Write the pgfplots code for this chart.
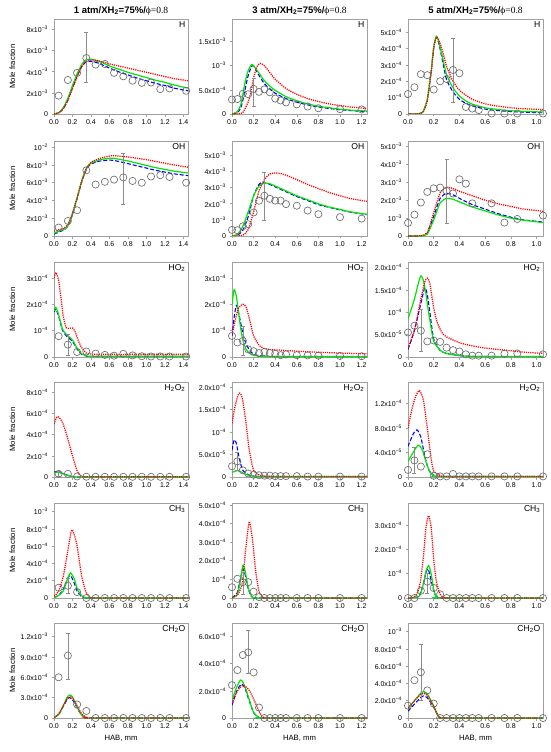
\documentclass[border=0pt]{standalone}
\usepackage{fontspec}
\setmainfont{Liberation Sans}
\newfontfamily\serifg{Liberation Serif}
\usepackage{pgfplots}
\pgfplotsset{compat=1.18}
\definecolor{cgreen}{RGB}{0,230,0}
\definecolor{frame}{RGB}{160,160,160}
\newcommand{\tl}[2]{#1x10\textsuperscript{−#2}}
\newcommand{\tp}[1]{10\textsuperscript{−#1}}
\newcommand{\ttl}[1]{{\bfseries #1 atm/XH\textsubscript{2}=75\%/}{\serifg ϕ=0.8}}
\pgfplotsset{
 pan/.style={scale only axis, height=95pt, xmin=0, ymin=0, clip=true,
   axis line style={frame, line width=0.6pt}, tick style={frame, line width=0.6pt},
   major tick length=2.5pt, tick align=outside, tick pos=left,
   ticklabel style={font=\fontsize{7}{8}\selectfont},
   xticklabel style={/pgf/number format/.cd, fixed, fixed zerofill, precision=1, assume math mode=true},
   every axis y label/.style={at={(axis description cs:-0.31,0.5)}, rotate=90, anchor=center, font=\fontsize{7.7}{9}\selectfont},
   every axis x label/.style={at={(axis description cs:0.5,-0.21)}, anchor=center, font=\fontsize{7.7}{9}\selectfont},
   every axis title/.style={at={(0.5,1)}, anchor=south, yshift=0pt, font=\fontsize{9.5}{11}\selectfont}},
 col1/.style={pan, width=134pt, xmax=1.45, xtick={0,0.2,0.4,0.6,0.8,1.0,1.2,1.4}, ylabel={Mole fraction}},
 col2/.style={pan, width=135pt, xmax=1.25, xtick={0,0.2,0.4,0.6,0.8,1.0,1.2}},
 col3/.style={pan, width=135pt, xmax=1.05, xtick={0,0.2,0.4,0.6,0.8,1.0}},
 cR/.style={draw=red, line width=1.25pt, dash pattern=on 1.2pt off 1.0pt, smooth, tension=0.4, mark=none},
 cB/.style={draw=blue, line width=1.1pt, dash pattern=on 4pt off 2pt, smooth, tension=0.4, mark=none},
 cG/.style={draw=cgreen, line width=1.2pt, smooth, tension=0.4, mark=none},
 cE/.style={only marks, mark=o, mark size=3.6pt, mark options={draw=gray!85!black, line width=0.65pt}},
 cEB/.style={draw=gray, line width=0.6pt, mark=none, error bars/.cd, y dir=both, y explicit,
   error bar style={gray!90, line width=0.6pt}, error mark options={gray!90, mark size=2pt, line width=0.6pt, rotate=90}},
}
\newcommand{\spec}[1]{\node[anchor=north east, font=\fontsize{8.6}{10}\selectfont, inner sep=2.5pt] at (rel axis cs:1,1) {#1};}
\begin{document}
\begin{tikzpicture}
\useasboundingbox (0,0) rectangle (550pt,-752pt);
% ===== Row 1: H =====
\begin{axis}[col1, at={(54pt,-19pt)}, anchor=north west, ymax=9, title={\ttl{1}},
  ytick={0,2,4,6,8}, yticklabels={0,\tl{2}{3},\tl{4}{3},\tl{6}{3},\tl{8}{3}}]
\addplot[cB] coordinates {(0,0.02)(0.05,0.1)(0.1,0.5)(0.15,1.35)(0.2,2.5)(0.25,3.6)(0.3,4.5)(0.35,4.95)(0.4,5.0)(0.45,4.9)(0.5,4.75)(0.6,4.35)(0.7,4.0)(0.8,3.7)(0.9,3.4)(1.0,3.15)(1.1,2.9)(1.2,2.7)(1.3,2.45)(1.45,2.2)};
\addplot[cG] coordinates {(0,0.02)(0.05,0.12)(0.1,0.6)(0.15,1.5)(0.2,2.7)(0.25,3.8)(0.3,4.7)(0.35,5.15)(0.4,5.2)(0.45,5.1)(0.5,4.95)(0.6,4.55)(0.7,4.25)(0.8,3.95)(0.9,3.7)(1.0,3.45)(1.1,3.2)(1.2,3.0)(1.3,2.75)(1.45,2.45)};
\addplot[cR] coordinates {(0,0.02)(0.05,0.1)(0.1,0.5)(0.15,1.3)(0.2,2.4)(0.25,3.5)(0.3,4.5)(0.35,5.0)(0.4,5.1)(0.45,5.1)(0.5,5.0)(0.6,4.75)(0.7,4.55)(0.8,4.35)(0.9,4.15)(1.0,3.95)(1.1,3.75)(1.2,3.55)(1.3,3.35)(1.45,3.15)};
\addplot[cE] coordinates {(0.05,1.74)(0.15,3.22)(0.25,3.9)(0.35,5.3)(0.45,4.68)(0.55,4.74)(0.65,3.9)(0.75,3.57)(0.85,3.16)(0.95,2.95)(1.05,2.98)(1.15,2.36)(1.25,2.42)(1.43,2.2)};
\addplot[cEB] coordinates {(0.35,5.35) +- (0,2.35)};
\spec{H}
\end{axis}
\begin{axis}[col2, at={(232pt,-19pt)}, anchor=north west, ymax=19.7, title={\ttl{3}},
  ytick={0,5,10,15}, yticklabels={0,\tl{5.0}{4},\tp{3},\tl{1.5}{3}}]
\addplot[cB] coordinates {(0,0)(0.05,0.3)(0.08,1.2)(0.1,2.8)(0.12,5.0)(0.15,8.0)(0.18,9.8)(0.2,10.0)(0.25,8.0)(0.3,6.3)(0.35,5.2)(0.4,4.3)(0.5,3.2)(0.6,2.45)(0.7,1.9)(0.8,1.45)(0.9,1.15)(1.0,0.9)(1.1,0.7)(1.25,0.5)};
\addplot[cG] coordinates {(0,0)(0.05,0.5)(0.08,1.8)(0.1,4.0)(0.12,6.5)(0.15,9.0)(0.18,10.2)(0.2,10.0)(0.25,8.5)(0.3,6.9)(0.35,5.8)(0.4,4.9)(0.5,3.6)(0.6,2.75)(0.7,2.1)(0.8,1.6)(0.9,1.3)(1.0,1.0)(1.1,0.8)(1.25,0.6)};
\addplot[cR] coordinates {(0,0)(0.08,0.1)(0.1,0.3)(0.15,2.5)(0.18,5.0)(0.2,7.5)(0.23,9.8)(0.26,10.5)(0.3,10.0)(0.35,8.6)(0.4,7.2)(0.5,5.3)(0.6,4.1)(0.7,3.2)(0.8,2.6)(0.9,2.1)(1.0,1.75)(1.1,1.45)(1.25,1.15)};
\addplot[cE] coordinates {(0,3.0)(0.05,3.1)(0.1,4.2)(0.15,4.1)(0.2,5.2)(0.25,4.6)(0.3,5.1)(0.35,4.5)(0.4,3.2)(0.45,2.8)(0.5,2.4)(0.6,2.0)(0.7,1.55)(0.8,1.2)(1.0,1.0)(1.2,0.95)};
\addplot[cEB] coordinates {(0.2,4.6) +- (0,2.9)};
\spec{H}
\end{axis}
\begin{axis}[col3, at={(408pt,-19pt)}, anchor=north west, ymax=5.8, title={\ttl{5}},
  ytick={0,1,2,3,4,5}, yticklabels={0,\tp{4},\tl{2}{4},\tl{3}{4},\tl{4}{4},\tl{5}{4}}]
\addplot[cB] coordinates {(0,0)(0.08,0.01)(0.1,0.05)(0.12,0.18)(0.15,0.9)(0.18,2.6)(0.2,4.05)(0.22,4.7)(0.24,4.3)(0.27,3.2)(0.3,2.1)(0.35,1.35)(0.4,0.9)(0.45,0.65)(0.5,0.5)(0.6,0.3)(0.7,0.21)(0.8,0.15)(0.9,0.11)(1.05,0.08)};
\addplot[cG] coordinates {(0,0)(0.08,0.01)(0.1,0.05)(0.12,0.18)(0.15,0.9)(0.18,2.6)(0.2,4.1)(0.22,4.75)(0.24,4.4)(0.27,3.4)(0.3,2.4)(0.35,1.6)(0.4,1.1)(0.45,0.8)(0.5,0.6)(0.6,0.38)(0.7,0.27)(0.8,0.2)(0.9,0.16)(1.05,0.12)};
\addplot[cR] coordinates {(0,0)(0.08,0.01)(0.1,0.05)(0.12,0.15)(0.15,0.8)(0.18,2.5)(0.2,4.0)(0.22,4.7)(0.24,4.5)(0.27,3.8)(0.3,2.9)(0.35,2.0)(0.4,1.45)(0.45,1.15)(0.5,0.9)(0.6,0.62)(0.7,0.48)(0.8,0.38)(0.9,0.32)(1.05,0.27)};
\addplot[cE] coordinates {(0,1.22)(0.05,1.63)(0.1,2.43)(0.15,2.37)(0.2,1.49)(0.25,2.0)(0.3,2.14)(0.35,2.69)(0.4,2.49)(0.45,0.43)(0.5,0.33)(0.55,0.24)(0.65,0.03)(0.75,0.03)(0.85,0.03)(1.05,0.03)};
\addplot[cEB] coordinates {(0.35,2.69) +- (0,1.96)};
\spec{H}
\end{axis}
% ===== Row 2: OH =====
\begin{axis}[col1, at={(54pt,-141pt)}, anchor=north west, ymax=10.7,
  ytick={0,2,4,6,8,10}, yticklabels={0,\tl{2}{3},\tl{4}{3},\tl{6}{3},\tl{8}{3},\tp{2}}]
\addplot[cB] coordinates {(0,0.2)(0.05,0.45)(0.1,0.65)(0.15,1.1)(0.2,2.4)(0.25,4.2)(0.3,6.1)(0.35,7.5)(0.4,8.1)(0.5,8.45)(0.6,8.55)(0.65,8.5)(0.7,8.4)(0.8,8.15)(0.9,7.9)(1.0,7.65)(1.1,7.4)(1.2,7.2)(1.3,7.0)(1.45,6.8)};
\addplot[cG] coordinates {(0,0.3)(0.05,0.55)(0.1,0.7)(0.15,1.15)(0.2,2.5)(0.25,4.3)(0.3,6.2)(0.35,7.6)(0.4,8.2)(0.5,8.6)(0.6,8.75)(0.65,8.75)(0.7,8.65)(0.8,8.45)(0.9,8.2)(1.0,7.95)(1.1,7.7)(1.2,7.5)(1.3,7.3)(1.45,7.1)};
\addplot[cR] coordinates {(0,0.55)(0.05,0.7)(0.1,0.85)(0.15,1.3)(0.2,2.6)(0.25,4.3)(0.3,6.2)(0.35,7.6)(0.4,8.3)(0.5,8.75)(0.6,9.0)(0.65,9.05)(0.7,9.0)(0.8,8.9)(0.9,8.75)(1.0,8.6)(1.1,8.4)(1.2,8.2)(1.3,8.0)(1.45,7.75)};
\addplot[cE] coordinates {(0.05,0.95)(0.15,1.7)(0.25,2.9)(0.35,7.4)(0.45,5.8)(0.55,6.1)(0.65,6.35)(0.75,6.6)(0.85,6.2)(0.95,6.0)(1.05,6.7)(1.15,6.85)(1.25,6.65)(1.43,6.0)};
\addplot[cEB] coordinates {(0.75,6.45) +- (0,2.85)};
\spec{OH}
\end{axis}
\begin{axis}[col2, at={(232pt,-141pt)}, anchor=north west, ymax=5.9,
  ytick={0,1,2,3,4,5}, yticklabels={0,\tp{3},\tl{2}{3},\tl{3}{3},\tl{4}{3},\tl{5}{3}}]
\addplot[cB] coordinates {(0,0)(0.05,0.05)(0.1,0.35)(0.15,1.2)(0.2,2.5)(0.25,3.2)(0.28,3.32)(0.35,3.2)(0.4,3.05)(0.5,2.75)(0.6,2.45)(0.7,2.2)(0.8,1.95)(0.9,1.78)(1.0,1.62)(1.1,1.48)(1.25,1.33)};
\addplot[cG] coordinates {(0,0)(0.05,0.1)(0.1,0.6)(0.15,1.5)(0.2,2.5)(0.25,3.1)(0.3,3.28)(0.35,3.25)(0.4,3.1)(0.5,2.8)(0.6,2.5)(0.7,2.25)(0.8,2.0)(0.9,1.8)(1.0,1.65)(1.1,1.5)(1.25,1.35)};
\addplot[cR] coordinates {(0,0)(0.1,0.05)(0.15,0.4)(0.2,1.5)(0.25,2.8)(0.3,3.5)(0.35,3.85)(0.4,3.92)(0.45,3.88)(0.5,3.78)(0.6,3.5)(0.7,3.2)(0.8,2.95)(0.9,2.7)(1.0,2.5)(1.1,2.32)(1.25,2.15)};
\addplot[cE] coordinates {(0,0.38)(0.05,0.36)(0.1,0.6)(0.15,0.73)(0.2,1.46)(0.25,2.19)(0.3,2.5)(0.35,2.31)(0.4,2.2)(0.45,2.2)(0.5,1.98)(0.6,1.88)(0.7,1.58)(0.8,1.35)(1.0,1.17)(1.2,1.08)};
\addplot[cEB] coordinates {(0.3,2.46) +- (0,1.5)};
\spec{OH}
\end{axis}
\begin{axis}[col3, at={(408pt,-141pt)}, anchor=north west, ymax=5.3,
  ytick={0,1,2,3,4,5}, yticklabels={0,\tp{3},\tl{2}{3},\tl{3}{3},\tl{4}{3},\tl{5}{3}}]
\addplot[cB] coordinates {(0,0)(0.1,0.01)(0.15,0.15)(0.2,1.1)(0.25,2.1)(0.3,2.38)(0.35,2.3)(0.4,2.1)(0.5,1.75)(0.6,1.5)(0.7,1.25)(0.8,1.05)(0.9,0.9)(1.05,0.78)};
\addplot[cG] coordinates {(0,0)(0.1,0.01)(0.15,0.1)(0.2,0.9)(0.25,1.85)(0.3,2.1)(0.35,2.05)(0.4,1.9)(0.5,1.62)(0.6,1.4)(0.7,1.18)(0.8,1.0)(0.9,0.88)(1.05,0.75)};
\addplot[cR] coordinates {(0,0)(0.1,0.02)(0.15,0.2)(0.2,1.3)(0.25,2.4)(0.3,2.72)(0.35,2.65)(0.4,2.5)(0.5,2.25)(0.6,2.0)(0.7,1.8)(0.8,1.65)(0.9,1.5)(1.05,1.38)};
\addplot[cE] coordinates {(0,0.73)(0.05,1.19)(0.1,1.87)(0.15,2.46)(0.2,2.66)(0.25,2.7)(0.3,2.51)(0.35,2.37)(0.4,3.16)(0.45,2.92)(0.5,1.82)(0.65,1.82)(0.75,0.75)(0.85,0.95)(1.05,1.14)};
\addplot[cEB] coordinates {(0.3,2.5) +- (0,1.8)};
\spec{OH}
\end{axis}
% ===== Row 3: HO2 =====
\begin{axis}[col1, at={(54pt,-262pt)}, anchor=north west, ymax=3.6,
  ytick={0,1,2,3}, yticklabels={0,\tp{4},\tl{2}{4},\tl{3}{4}}]
\addplot[cB] coordinates {(0,1.7)(0.02,1.82)(0.05,1.55)(0.08,1.15)(0.1,0.95)(0.15,0.74)(0.2,0.6)(0.25,0.3)(0.3,0.1)(0.35,0.04)(0.4,0.02)(1.0,0.02)(1.45,0.02)};
\addplot[cG] coordinates {(0,1.75)(0.02,1.88)(0.05,1.6)(0.08,1.2)(0.1,1.0)(0.15,0.8)(0.2,0.65)(0.25,0.33)(0.3,0.12)(0.35,0.05)(0.4,0.03)(1.0,0.03)(1.45,0.03)};
\addplot[cR] coordinates {(0,3.0)(0.02,3.2)(0.05,2.9)(0.08,2.1)(0.1,1.55)(0.13,1.12)(0.16,1.08)(0.2,1.1)(0.23,0.95)(0.26,0.65)(0.3,0.35)(0.35,0.15)(0.4,0.11)(0.6,0.1)(1.0,0.1)(1.45,0.1)};
\addplot[cE] coordinates {(0.05,0.79)(0.15,0.47)(0.25,0.19)(0.35,0.21)(0.45,0.13)(0.55,0.08)(0.65,0.05)(0.75,0.12)(0.85,0.06)(0.95,0.03)(1.05,0.02)(1.15,0.02)(1.25,0.02)(1.43,0.02)};
\addplot[cEB] coordinates {(0.15,0.47) +- (0,0.4)};
\spec{HO\textsubscript{2}}
\end{axis}
\begin{axis}[col2, at={(232pt,-262pt)}, anchor=north west, ymax=3.6,
  ytick={0,1,2,3}, yticklabels={0,\tp{4},\tl{2}{4},\tl{3}{4}}]
\addplot[cB] coordinates {(0,0.8)(0.02,1.5)(0.04,1.95)(0.06,1.7)(0.08,1.3)(0.1,0.9)(0.13,0.5)(0.16,0.28)(0.2,0.1)(0.3,0.03)(0.5,0.02)(1.25,0.02)};
\addplot[cG] coordinates {(0,2.0)(0.02,2.55)(0.04,2.3)(0.06,1.7)(0.08,1.1)(0.1,0.65)(0.13,0.3)(0.16,0.15)(0.2,0.06)(0.3,0.02)(0.5,0.01)(1.25,0.01)};
\addplot[cR] coordinates {(0,0.85)(0.03,1.4)(0.06,1.85)(0.1,2.0)(0.13,1.9)(0.17,1.3)(0.2,0.8)(0.25,0.45)(0.3,0.32)(0.4,0.27)(0.5,0.25)(0.6,0.22)(0.8,0.18)(1.0,0.15)(1.25,0.12)};
\addplot[cE] coordinates {(0,0.8)(0.05,0.55)(0.1,0.61)(0.15,0.29)(0.2,0.22)(0.25,0.15)(0.3,0.19)(0.35,0.15)(0.4,0.12)(0.45,0.07)(0.5,0.1)(0.6,0.07)(0.7,0.06)(0.8,0.05)(1.0,0.04)(1.2,0.03)};
\addplot[cEB] coordinates {(0.1,0.61) +- (0,0.55)};
\spec{HO\textsubscript{2}}
\end{axis}
\begin{axis}[col3, at={(408pt,-262pt)}, anchor=north west, ymax=21.3,
  ytick={0,5,10,15,20}, yticklabels={0,\tl{5.0}{5},\tp{4},\tl{1.5}{4},\tl{2.0}{4}}]
\addplot[cB] coordinates {(0,1.7)(0.05,6)(0.1,12)(0.13,15.5)(0.15,14)(0.17,10)(0.2,4)(0.25,1.5)(0.3,0.8)(0.4,0.3)(0.5,0.15)(0.7,0.1)(1.05,0.1)};
\addplot[cG] coordinates {(0,8.5)(0.05,13)(0.08,16.5)(0.1,18.2)(0.12,17.2)(0.14,14)(0.16,10)(0.18,6.5)(0.2,3.5)(0.25,1.5)(0.3,0.8)(0.4,0.3)(0.5,0.15)(0.7,0.1)(1.05,0.1)};
\addplot[cR] coordinates {(0,2)(0.05,6)(0.1,13)(0.13,16.8)(0.15,17.7)(0.17,16.5)(0.2,11)(0.23,7.5)(0.27,5.2)(0.3,4.5)(0.4,3.2)(0.5,2.5)(0.6,2.0)(0.7,1.7)(0.8,1.4)(0.9,1.1)(1.05,0.8)};
\addplot[cE] coordinates {(0,5.5)(0.05,7.0)(0.1,5.9)(0.15,3.5)(0.2,3.7)(0.25,3.4)(0.3,2.1)(0.35,1.55)(0.4,1.25)(0.45,0.6)(0.5,0.3)(0.55,0.3)(0.65,0.3)(0.75,0.75)(0.85,0.8)(1.05,0.6)};
\addplot[cEB] coordinates {(0.1,5.9) +- (0,4.7)};
\spec{HO\textsubscript{2}}
\end{axis}
% ===== Row 4: H2O2 =====
\begin{axis}[col1, at={(54pt,-382pt)}, anchor=north west, ymax=9,
  ytick={0,2,4,6,8}, yticklabels={0,\tl{2}{4},\tl{4}{4},\tl{6}{4},\tl{8}{4}}]
\addplot[cB] coordinates {(0,0.5)(0.05,0.48)(0.1,0.32)(0.15,0.16)(0.2,0.06)(0.3,0.01)(1.45,0.01)};
\addplot[cG] coordinates {(0,0.45)(0.05,0.45)(0.1,0.3)(0.15,0.15)(0.2,0.05)(0.3,0.01)(1.45,0.01)};
\addplot[cR] coordinates {(0,5.0)(0.03,5.7)(0.06,5.6)(0.1,5.0)(0.15,3.6)(0.2,2.0)(0.25,0.6)(0.28,0.2)(0.3,0.06)(0.35,0.03)(0.5,0.02)(1.45,0.02)};
\addplot[cE] coordinates {(0.05,0.3)(0.15,0.3)(0.25,0.05)(0.35,0.03)(0.45,0.02)(0.55,0.02)(0.65,0.02)(0.75,0.02)(0.85,0.02)(0.95,0.02)(1.05,0.02)(1.15,0.02)(1.25,0.02)(1.43,0.02)};
\addplot[cEB] coordinates {(0.05,0.3) +- (0,0.2)};
\spec{H\textsubscript{2}O\textsubscript{2}}
\end{axis}
\begin{axis}[col2, at={(232pt,-382pt)}, anchor=north west, ymax=21.2,
  ytick={0,5,10,15,20}, yticklabels={0,\tl{5.0}{5},\tp{4},\tl{1.5}{4},\tl{2.0}{4}}]
\addplot[cB] coordinates {(0,6)(0.02,8.3)(0.04,7.5)(0.06,5.0)(0.08,3.0)(0.1,1.5)(0.15,0.5)(0.2,0.2)(0.3,0.1)(1.25,0.1)};
\addplot[cG] coordinates {(0,1.0)(0.03,1.3)(0.05,1.4)(0.08,1.2)(0.1,0.9)(0.15,0.4)(0.2,0.2)(0.3,0.1)(1.25,0.1)};
\addplot[cR] coordinates {(0,12)(0.03,16)(0.06,18.5)(0.08,18.6)(0.1,17)(0.13,12)(0.16,6)(0.2,1.5)(0.25,0.5)(0.3,0.2)(0.5,0.1)(1.25,0.1)};
\addplot[cE] coordinates {(0,2.4)(0.05,3.5)(0.1,1.5)(0.15,0.8)(0.2,0.5)(0.25,0.4)(0.3,0.3)(0.35,0.3)(0.4,0.2)(0.45,0.2)(0.5,0.2)(0.6,0.2)(0.7,0.1)(0.8,0.1)(1.0,0.1)(1.2,0.1)};
\addplot[cEB] coordinates {(0.05,3.5) +- (0,2.0)};
\spec{H\textsubscript{2}O\textsubscript{2}}
\end{axis}
\begin{axis}[col3, at={(408pt,-382pt)}, anchor=north west, ymax=15.5,
  ytick={0,4,8,12}, yticklabels={0,\tl{4.0}{5},\tl{8.0}{5},\tl{1.2}{4}}]
\addplot[cB] coordinates {(0,5)(0.04,7)(0.07,7.7)(0.1,6.5)(0.13,3.5)(0.16,1.2)(0.2,0.3)(0.25,0.1)(1.05,0.1)};
\addplot[cG] coordinates {(0,2.5)(0.04,4.0)(0.08,5.2)(0.11,4.5)(0.14,2.5)(0.17,0.8)(0.2,0.3)(0.25,0.1)(1.05,0.1)};
\addplot[cR] coordinates {(0,8)(0.03,11)(0.06,13.2)(0.09,14.1)(0.12,12.5)(0.15,8)(0.18,3)(0.2,1.0)(0.25,0.3)(0.3,0.1)(1.05,0.1)};
\addplot[cE] coordinates {(0,1.16)(0.05,2.7)(0.1,1.7)(0.15,3.7)(0.2,0.2)(0.25,0.1)(0.3,0.1)(0.35,0.5)(0.4,0.1)(0.45,0.1)(0.5,0.1)(0.55,0.1)(0.65,0.1)(0.75,0.1)(0.85,0.1)(1.05,0.1)};
\addplot[cEB] coordinates {(0.05,2.7) +- (0,2.1)};
\spec{H\textsubscript{2}O\textsubscript{2}}
\end{axis}
% ===== Row 5: CH3 =====
\begin{axis}[col1, at={(54pt,-503pt)}, anchor=north west, ymax=11,
  ytick={0,2,4,6,8,10}, yticklabels={0,\tl{2}{4},\tl{4}{4},\tl{6}{4},\tl{8}{4},\tp{3}}]
\addplot[cB] coordinates {(0,0.05)(0.05,0.3)(0.1,1.0)(0.15,2.3)(0.18,2.6)(0.22,1.7)(0.25,0.8)(0.3,0.15)(0.35,0.02)(0.4,0)(1.45,0)};
\addplot[cG] coordinates {(0,0.05)(0.05,0.3)(0.1,0.8)(0.15,2.3)(0.18,2.9)(0.22,2.2)(0.25,1.1)(0.3,0.25)(0.35,0.03)(0.4,0)(1.45,0)};
\addplot[cR] coordinates {(0,0.2)(0.05,0.8)(0.1,2.5)(0.15,5.5)(0.19,7.85)(0.22,7.3)(0.25,6.0)(0.3,2.5)(0.35,0.6)(0.4,0.05)(0.45,0)(1.45,0)};
\addplot[cE] coordinates {(0.05,1.19)(0.15,1.42)(0.25,0.69)(0.35,0)(0.45,0)(0.55,0)(0.65,0)(0.75,0)(0.85,0)(0.95,0)(1.05,0)(1.15,0)(1.25,0)(1.43,0)};
\addplot[cEB] coordinates {(0.15,1.42) +- (0,0.9)};
\spec{CH\textsubscript{3}}
\end{axis}
\begin{axis}[col2, at={(232pt,-503pt)}, anchor=north west, ymax=5.1,
  ytick={0,1,2,3,4,5}, yticklabels={0,\tp{4},\tl{2.0}{4},\tl{3.0}{4},\tl{4.0}{4},\tl{5.0}{4}}]
\addplot[cB] coordinates {(0,0.01)(0.05,0.3)(0.08,1.1)(0.1,1.55)(0.12,1.3)(0.15,0.5)(0.18,0.08)(0.2,0.01)(0.25,0)(1.25,0)};
\addplot[cG] coordinates {(0,0.01)(0.05,0.2)(0.08,1.0)(0.1,1.75)(0.12,1.5)(0.15,0.55)(0.18,0.1)(0.2,0.02)(0.25,0)(1.25,0)};
\addplot[cR] coordinates {(0,0.02)(0.05,0.15)(0.08,0.5)(0.1,1.0)(0.13,2.8)(0.16,4.1)(0.19,3.1)(0.22,1.4)(0.25,0.35)(0.28,0.05)(0.3,0.01)(0.35,0)(1.25,0)};
\addplot[cE] coordinates {(0,0.58)(0.05,1.03)(0.1,0.85)(0.15,0.85)(0.2,0.34)(0.25,0.05)(0.3,0)(0.35,0)(0.4,0)(0.45,0)(0.5,0)(0.6,0)(0.7,0)(0.8,0)(1.0,0)(1.2,0)};
\addplot[cEB] coordinates {(0.1,0.8) +- (0,0.58)};
\spec{CH\textsubscript{3}}
\end{axis}
\begin{axis}[col3, at={(408pt,-503pt)}, anchor=north west, ymax=3.9,
  ytick={0,1,2,3}, yticklabels={0,\tp{4},\tl{2.0}{4},\tl{3.0}{4}}]
\addplot[cB] coordinates {(0,0)(0.08,0.05)(0.1,0.25)(0.12,0.6)(0.14,1.05)(0.155,1.2)(0.17,0.95)(0.2,0.3)(0.22,0.05)(0.25,0)(1.05,0)};
\addplot[cG] coordinates {(0,0)(0.08,0.05)(0.1,0.2)(0.12,0.6)(0.14,1.1)(0.16,1.33)(0.18,1.0)(0.2,0.35)(0.22,0.05)(0.25,0)(1.05,0)};
\addplot[cR] coordinates {(0,0)(0.05,0.05)(0.08,0.3)(0.1,0.8)(0.12,1.7)(0.14,2.9)(0.16,3.38)(0.18,2.9)(0.2,1.6)(0.22,0.7)(0.25,0.15)(0.28,0.02)(0.3,0)(1.05,0)};
\addplot[cE] coordinates {(0,0)(0.05,0)(0.1,0.3)(0.15,0.67)(0.2,0.41)(0.25,0.15)(0.3,0)(0.35,0)(0.4,0)(0.45,0)(0.5,0)(0.55,0)(0.65,0)(0.75,0)(0.85,0)(1.05,0)};
\addplot[cEB] coordinates {(0.15,0.6) +- (0,0.4)};
\spec{CH\textsubscript{3}}
\end{axis}
% ===== Row 6: CH2O =====
\begin{axis}[col1, at={(54pt,-623pt)}, anchor=north west, ymax=14, xlabel={HAB, mm},
  ytick={0,3,6,9,12}, yticklabels={0,\tl{3.0}{4},\tl{6.0}{4},\tl{9.0}{4},\tl{1.2}{3}}]
\addplot[cB] coordinates {(0,0.05)(0.05,0.5)(0.1,1.7)(0.15,2.9)(0.17,3.0)(0.2,2.7)(0.25,1.5)(0.3,0.4)(0.35,0.05)(0.4,0)(1.45,0)};
\addplot[cG] coordinates {(0,0.1)(0.05,0.5)(0.1,1.8)(0.14,3.0)(0.17,3.4)(0.2,3.1)(0.25,1.6)(0.3,0.4)(0.35,0.05)(0.4,0)(1.45,0)};
\addplot[cR] coordinates {(0,0.05)(0.05,0.6)(0.1,1.8)(0.15,3.0)(0.18,3.1)(0.22,2.6)(0.25,1.8)(0.3,0.6)(0.35,0.1)(0.4,0)(1.45,0)};
\addplot[cE] coordinates {(0.05,6.0)(0.15,9.2)(0.25,2.0)(0.35,1.04)(0.45,0)(0.55,0)(0.65,0)(0.75,0)(0.85,0)(0.95,0)(1.05,0)(1.15,0)(1.25,0)(1.43,0)};
\addplot[cEB] coordinates {(0.15,9.1) +- (0,3.4)};
\spec{CH\textsubscript{2}O}
\end{axis}
\begin{axis}[col2, at={(232pt,-623pt)}, anchor=north west, ymax=7.0, xlabel={HAB, mm},
  ytick={0,2,4,6}, yticklabels={0,\tl{2.0}{4},\tl{4.0}{4},\tl{6.0}{4}}]
\addplot[cB] coordinates {(0,0.95)(0.05,2.1)(0.09,2.5)(0.12,2.2)(0.15,1.5)(0.2,0.4)(0.25,0.05)(0.3,0)(1.25,0)};
\addplot[cG] coordinates {(0,1.3)(0.03,2.0)(0.05,2.4)(0.08,2.8)(0.1,2.65)(0.13,2.1)(0.15,1.6)(0.2,0.4)(0.25,0.05)(0.3,0)(1.25,0)};
\addplot[cR] coordinates {(0,1.1)(0.05,2.0)(0.1,2.4)(0.15,2.15)(0.2,1.4)(0.25,0.5)(0.28,0.1)(0.3,0.02)(0.35,0)(1.25,0)};
\addplot[cE] coordinates {(0,2.42)(0.05,3.53)(0.1,4.64)(0.15,4.84)(0.2,3.36)(0.25,0.77)(0.3,0)(0.35,0)(0.4,0)(0.45,0)(0.5,0)(0.6,0)(0.7,0)(0.8,0)(1.0,0)(1.2,0)};
\addplot[cEB] coordinates {(0.15,4.86) +- (0,1.58)};
\spec{CH\textsubscript{2}O}
\end{axis}
\begin{axis}[col3, at={(408pt,-623pt)}, anchor=north west, ymax=11, xlabel={HAB, mm},
  ytick={0,2,4,6,8,10}, yticklabels={0,\tl{2.0}{4},\tl{4.0}{4},\tl{6.0}{4},\tl{8.0}{4},\tp{3}}]
\addplot[cB] coordinates {(0,0.8)(0.05,1.6)(0.1,2.4)(0.12,2.55)(0.15,2.35)(0.2,1.25)(0.23,0.35)(0.25,0.05)(0.3,0)(1.05,0)};
\addplot[cG] coordinates {(0,1.1)(0.05,2.0)(0.1,2.9)(0.12,3.05)(0.15,2.8)(0.2,1.4)(0.23,0.4)(0.25,0.05)(0.3,0)(1.05,0)};
\addplot[cR] coordinates {(0,1.15)(0.05,2.0)(0.1,2.75)(0.12,2.85)(0.15,2.6)(0.2,1.3)(0.23,0.4)(0.25,0.05)(0.3,0)(1.05,0)};
\addplot[cE] coordinates {(0,1.43)(0.05,4.38)(0.1,5.3)(0.15,3.2)(0.2,1.67)(0.25,0)(0.3,0)(0.35,0)(0.4,0)(0.45,0)(0.5,0)(0.55,0)(0.65,0)(0.75,0)(0.85,0)(1.05,0)};
\addplot[cEB] coordinates {(0.1,5.3) +- (0,3.2)};
\spec{CH\textsubscript{2}O}
\end{axis}
\end{tikzpicture}
\end{document}
